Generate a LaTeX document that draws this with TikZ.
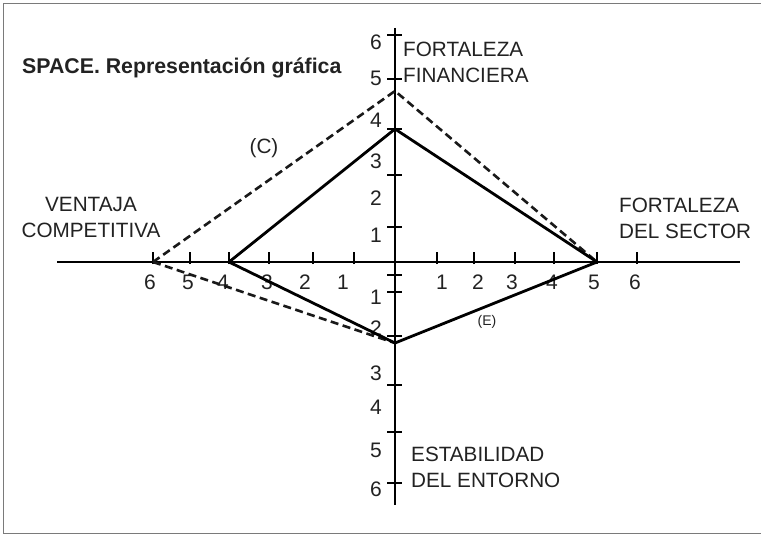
\documentclass[tikz,border=0pt]{standalone}
\usepackage{fontspec}
\setmainfont{Liberation Sans}
\usetikzlibrary{positioning}

\definecolor{inkgray}{HTML}{222222}
\definecolor{framegray}{HTML}{7A7A7A}

\tikzset{
  every label text/.style={font=\fontsize{20.7}{26}\selectfont, text=inkgray, inner sep=0pt},
  axis line/.style={line width=2.6pt, black},
  tick line/.style={line width=1.2pt, black},
  poly solid/.style={line width=2.8pt, black, line join=miter},
  poly dashed/.style={line width=2.6pt, black!90, dash pattern=on 8pt off 4.5pt},
  tick number/.style={font=\fontsize{21}{22}\selectfont, text=inkgray, inner sep=0pt}
}

\begin{document}
\begin{tikzpicture}[x=1pt, y=-1pt, >=stealth]

\useasboundingbox (0,0) rectangle (761,535);

% frame
\draw [framegray, line width=1.4pt] (762,3.5) -- (3.5,3.5) -- (3.5,533.5) -- (762,533.5);

% axes
\coordinate (west)  at (57,262);
\coordinate (east)  at (740,262);
\coordinate (north) at (395,28);
\coordinate (south) at (395,505);
\draw [axis line] (west) -- (east);
\draw [axis line] (north) -- (south);

% ticks on the horizontal axis
\foreach \x in {153,190,229,269,313,354,437,474,515,554,597,637}
  \draw [tick line] (\x,264) -- ++(0,-12);

\foreach \x/\l [count=\i] in {150/6,188/5,223/4,267/3,305/2,343/1,442/1,478/2,512/3,552/4,594/5,635/6}
  \node [tick number] (hnum-\i) at (\x,282) {\l};

% ticks on the vertical axis
\foreach \y in {35,79,129,175,227,275,292,336,385,432,483}
  \draw [tick line] (387,\y) -- (402,\y);

\foreach \y/\l [count=\i] in {42/6,78/5,120/4,161/3,198/2,235/1,297/1,328/2,373/3,407/4,450/5,489/6}
  \node [tick number] (vnum-\i) at (376,\y) {\l};

% the two profiles
\coordinate (solid-w) at (229,262);
\coordinate (solid-n) at (395,129);
\coordinate (solid-e) at (597,262);
\coordinate (solid-s) at (395,343);
\coordinate (dash-w)  at (153,262);
\coordinate (dash-n)  at (395,91);

\draw [poly dashed] (dash-w) -- (dash-n) -- (solid-e);
\draw [poly dashed] (dash-w) -- (solid-s);
\draw [poly solid] (solid-w) -- (solid-n) -- (solid-e) -- (solid-s) -- cycle;

% texts
\node [every label text, anchor=west, font=\fontsize{21.3}{26}\selectfont\bfseries] (title) at (22,68) {SPACE. Representación gráfica};
\node [every label text] (curve-c) at (264,148) {(C)};
\node [every label text, font=\fontsize{14}{16}\selectfont] (curve-e) at (487,322) {(E)};

\node [every label text, align=center] (ventaja) at (91,217) {VENTAJA\\COMPETITIVA};
\node [every label text, align=left, anchor=west] (financiera) at (403,62) {FORTALEZA\\FINANCIERA};
\node [every label text, align=left, anchor=west] (sector) at (619,218) {FORTALEZA\\DEL SECTOR};
\node [every label text, align=left, anchor=west] (entorno) at (411,467) {ESTABILIDAD\\DEL ENTORNO};

\end{tikzpicture}
\end{document}
